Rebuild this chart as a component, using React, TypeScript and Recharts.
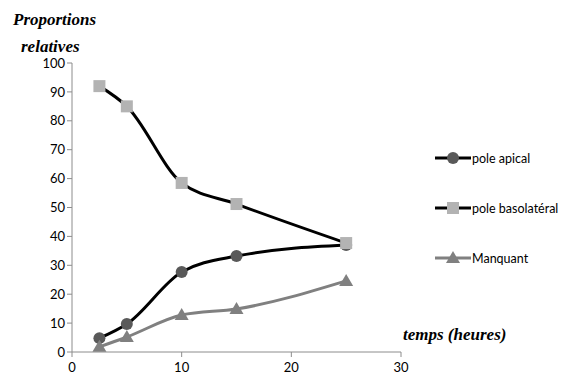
import { LineChart, Line, XAxis, YAxis } from "recharts";

const hours = [2.5, 5, 10, 15, 25];
const apical = [4.8, 9.7, 27.7, 33.2, 37];
const basolateral = [92, 85, 58.5, 51.2, 37.7];
const manquant = [1.8, 5.2, 12.8, 14.9, 24.6];
const xTicks = [0, 10, 20, 30];
const yTicks = [0, 10, 20, 30, 40, 50, 60, 70, 80, 90, 100];

const series = [
  { key: "apical", name: "pole apical", stroke: "#000000", fill: "#595959", shape: "circle" },
  { key: "basolateral", name: "pole basolatéral", stroke: "#000000", fill: "#b3b3b3", shape: "square" },
  { key: "manquant", name: "Manquant", stroke: "#808080", fill: "#808080", shape: "triangle" },
];

const data = hours.map((h, i) => ({
  h,
  apical: apical[i],
  basolateral: basolateral[i],
  manquant: manquant[i],
}));

const font = "Lato, 'Open Sans', sans-serif";
const titleFont = {
  fontFamily: "'Liberation Serif', serif",
  fontWeight: "bold",
  fontStyle: "italic",
  fontSize: 17,
} as const;

function Marker({ cx, cy, shape, fill }: { cx: number; cy: number; shape: string; fill: string }) {
  if (cx == null || cy == null) return null;
  if (shape === "circle") return <circle cx={cx} cy={cy} r={6} fill={fill} />;
  if (shape === "square") return <rect x={cx - 6} y={cy - 6} width={12} height={12} fill={fill} />;
  return <polygon points={`${cx},${cy - 7} ${cx + 7},${cy + 5} ${cx - 7},${cy + 5}`} fill={fill} />;
}

function LegendBox() {
  return (
    <svg width={140} height={130}>
      {series.map((s, i) => {
        const y = 13 + i * 50;
        return (
          <g key={s.key}>
            <line x1={0} x2={36} y1={y} y2={y} stroke={s.stroke} strokeWidth={3} />
            <Marker cx={18} cy={y} shape={s.shape} fill={s.fill} />
            <text x={37} y={y + 4.5} fontSize={12.5} fontFamily={font} fill="#000">
              {s.name}
            </text>
          </g>
        );
      })}
    </svg>
  );
}

export default function App() {
  return (
    <div style={{ position: "absolute", left: 0, top: 0, width: 576, height: 380, background: "#fff" }}>
      <LineChart width={576} height={380} data={data} margin={{ top: 63, right: 175, left: 32, bottom: 8 }}>
        <XAxis
          dataKey="h"
          type="number"
          domain={[0, 30]}
          ticks={xTicks}
          height={20}
          stroke="#8c8c8c"
          tickSize={5}
          tick={{ fill: "#000", fontSize: 13, fontFamily: font, dy: 4 }}
        />
        <YAxis
          domain={[0, 100]}
          ticks={yTicks}
          width={40}
          stroke="#8c8c8c"
          tickSize={5}
          tick={{ fill: "#000", fontSize: 13, fontFamily: font }}
        />
        {series.map((s) => (
          <Line
            key={s.key}
            dataKey={s.key}
            name={s.name}
            type="monotone"
            stroke={s.stroke}
            strokeWidth={3}
            dot={(p: any) => <Marker key={p.index} cx={p.cx} cy={p.cy} shape={s.shape} fill={s.fill} />}
            activeDot={false}
            isAnimationActive={false}
          />
        ))}
      </LineChart>
      <div style={{ position: "absolute", left: 435, top: 145 }}>
        <LegendBox />
      </div>
      <div style={{ position: "absolute", left: 13, top: 6, lineHeight: "27px", ...titleFont }}>
        Proportions
        <div style={{ paddingLeft: 8 }}>relatives</div>
      </div>
      <div style={{ position: "absolute", left: 403, top: 325, ...titleFont }}>temps (heures)</div>
    </div>
  );
}
